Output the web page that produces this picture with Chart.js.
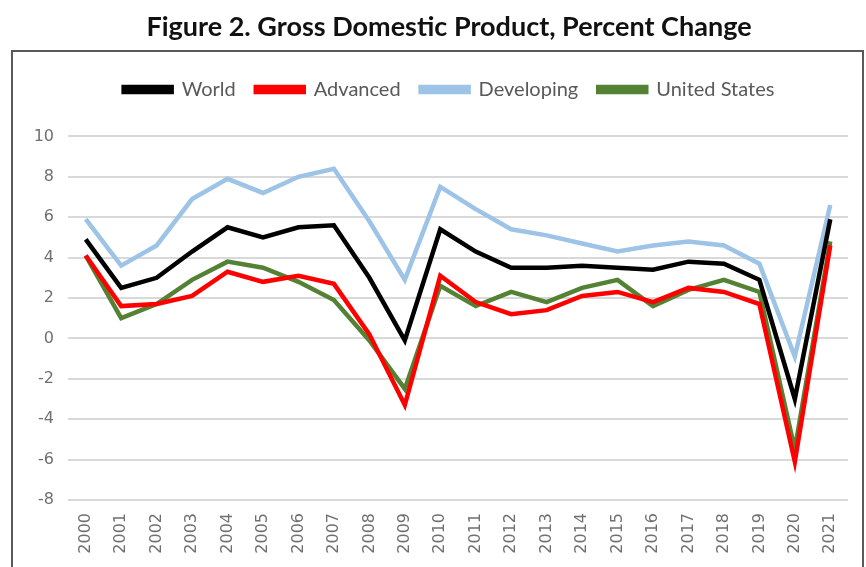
<!DOCTYPE html>
<html>
<head>
<meta charset="utf-8">
<script src="https://cdn.jsdelivr.net/npm/chart.js@4"></script>
<style>
  body { margin: 0; background: #fff; }
  #wrap { position: relative; width: 866px; height: 567px; }
  #box { position: absolute; left: 11px; top: 50px; width: 849px; height: 560px; border: 2px solid #5a5a5a; }
  canvas { position: absolute; left: 0; top: 0; }
</style>
</head>
<body>
<div id="wrap">
  <div id="box"></div>
  <canvas id="gdp-chart" width="866" height="567"></canvas>
</div>
<script>
// GDP growth, percent change
const years = ['2000', '2001', '2002', '2003', '2004', '2005', '2006', '2007', '2008', '2009', '2010',
               '2011', '2012', '2013', '2014', '2015', '2016', '2017', '2018', '2019', '2020', '2021'];

const world      = [4.9, 2.5, 3.0, 4.3, 5.5, 5.0, 5.5, 5.6, 3.0, -0.1, 5.4, 4.3, 3.5, 3.5, 3.6, 3.5, 3.4, 3.8, 3.7, 2.9, -3.0, 5.9];
const advanced   = [4.1, 1.6, 1.7, 2.1, 3.3, 2.8, 3.1, 2.7, 0.2, -3.3, 3.1, 1.8, 1.2, 1.4, 2.1, 2.3, 1.8, 2.5, 2.3, 1.7, -6.1, 4.6];
const developing = [5.9, 3.6, 4.6, 6.9, 7.9, 7.2, 8.0, 8.4, 5.8, 2.9, 7.5, 6.4, 5.4, 5.1, 4.7, 4.3, 4.6, 4.8, 4.6, 3.7, -0.9, 6.6];
const unitedStates = [4.1, 1.0, 1.7, 2.9, 3.8, 3.5, 2.8, 1.9, -0.1, -2.5, 2.6, 1.6, 2.3, 1.8, 2.5, 2.9, 1.6, 2.4, 2.9, 2.3, -5.5, 4.8];

const yTicks = [-8, -6, -4, -2, 0, 2, 4, 6, 8, 10];

const gray = '#595959';
const tickGray = '#707070';

function series(label, data, color) {
    return {
        label: label,
        data: data,
        borderColor: color,
        backgroundColor: color,
        borderWidth: 4.5,
        pointRadius: 0,
        tension: 0
    };
}

// empty box between legend and plot, like the gap in the original
const legendGap = {
    id: 'legendGap',
    beforeInit(chart) {
        Chart.layouts.addBox(chart, {
            position: 'top',
            weight: 500,
            fullSize: true,
            options: {},
            isHorizontal() { return true; },
            update(maxWidth) { this.width = maxWidth; this.height = 27; },
            draw() {}
        });
    }
};

const ctx = document.getElementById('gdp-chart').getContext('2d');
new Chart(ctx, {
    type: 'line',
    data: {
        labels: years,
        datasets: [
            series('World', world, '#000000'),
            series('Advanced', advanced, '#ff0000'),
            series('Developing', developing, '#9dc3e6'),
            series('United States', unitedStates, '#548235')
        ]
    },
    plugins: [legendGap],
    options: {
        responsive: false,
        devicePixelRatio: 1,
        animation: false,
        layout: { padding: { left: 50, right: 18, top: 0, bottom: 0 } },
        plugins: {
            title: {
                display: true,
                text: 'Figure 2. Gross Domestic Product, Percent Change',
                color: '#111',
                font: { family: 'Lato', size: 27, weight: 'bold' },
                padding: { top: 11, bottom: 16 }
            },
            legend: {
                labels: {
                    color: gray,
                    font: { family: 'Lato', size: 20 },
                    boxWidth: 48,
                    boxHeight: 5,
                    padding: 20
                }
            },
            tooltip: { enabled: false }
        },
        scales: {
            x: {
                offset: true,
                grid: { display: false },
                border: { display: false },
                ticks: {
                    color: tickGray,
                    font: { family: 'DejaVu Sans', size: 16 },
                    minRotation: 90,
                    maxRotation: 90,
                    padding: 5,
                    autoSkip: false
                },
                afterFit: function (scale) { scale.height = 67; }
            },
            y: {
                min: yTicks[0],
                max: yTicks[yTicks.length - 1],
                afterBuildTicks: function (scale) {
                    scale.ticks = yTicks.map(v => ({ value: v }));
                },
                grid: { color: '#d9d9d9', lineWidth: 2, drawTicks: false },
                border: { display: false },
                ticks: {
                    color: tickGray,
                    font: { family: 'DejaVu Sans', size: 16 },
                    padding: 14
                },
                afterFit: function (scale) {
                    scale.width = 18;
                    // labels hang out into the left padding, so don't clip them
                    scale._computeLabelArea = function () { return undefined; };
                }
            }
        }
    }
});
</script>
</body>
</html>
